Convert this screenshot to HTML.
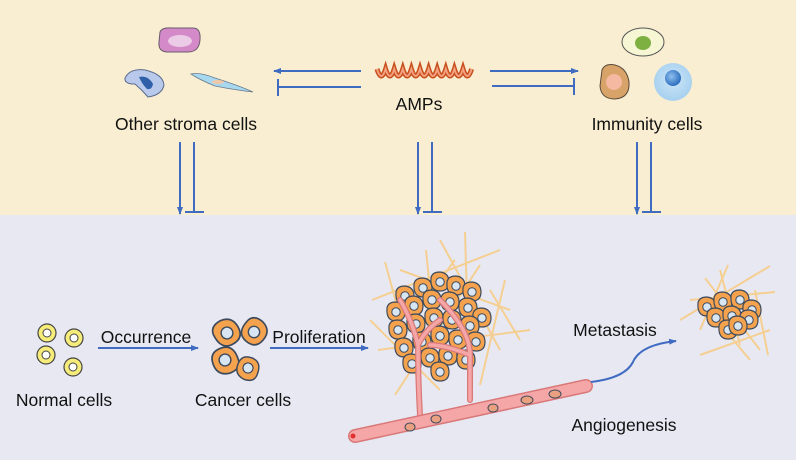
<!DOCTYPE html>
<html><head><meta charset="utf-8"><style>
html,body{margin:0;padding:0;background:#fff}
svg{display:block}
text{font-family:"Liberation Sans","DejaVu Sans",sans-serif;fill:#111}
</style></head><body>
<svg width="796" height="460" viewBox="0 0 796 460" xmlns="http://www.w3.org/2000/svg">
<defs>
<marker id="ar" markerWidth="8" markerHeight="8" refX="7" refY="4" orient="auto" markerUnits="userSpaceOnUse"><path d="M0,1 L8,4 L0,7 Z" fill="#3f6cc0"/></marker>
<radialGradient id="bl" cx="0.5" cy="0.45" r="0.5"><stop offset="0" stop-color="#cfe6f8"/><stop offset="1" stop-color="#a9d2f0"/></radialGradient>
<radialGradient id="bn" cx="0.4" cy="0.4" r="0.6"><stop offset="0" stop-color="#8fc0ee"/><stop offset="1" stop-color="#2f6fc0"/></radialGradient>
<g id="cc"><path d="M-9,-4 Q-8,-10 0,-10 Q9,-9 9,0 Q9,9 0,9 Q-10,9 -9,-4Z" fill="#f4a24e" stroke="#3d4a5c" stroke-width="1.2"/><circle r="4.2" fill="#d8e6f3" stroke="#3d4a5c" stroke-width="1"/></g>
</defs>
<rect x="0" y="0" width="796" height="215" fill="#f9eed2"/>
<rect x="0" y="215" width="796" height="245" fill="#e8e8f3"/>

<!-- stroma cells -->
<path d="M160,32 Q162,27 172,28 L193,28 Q201,28 200,40 Q199,52 188,52 L168,52 Q158,52 159,42Z" fill="#d48ac8" stroke="#6a5a6a" stroke-width="1"/>
<ellipse cx="180" cy="41" rx="12" ry="6" fill="#eccbe6"/>
<path d="M125,78 Q130,68 145,70 Q163,74 164,85 Q162,95 148,97 Q142,90 135,84 Q124,84 125,78Z" fill="#b9c9ec" stroke="#5a6a8a" stroke-width="1"/>
<path d="M139,77 Q148,75 153,84 Q152,90 147,89 Q142,84 139,77Z" fill="#2e5fa8"/>
<path d="M191,74 Q200,72 215,78 Q240,86 253,92 Q235,90 215,86 Q200,80 191,74Z" fill="#a8d8f0" stroke="#6a7a8a" stroke-width="0.8"/>
<ellipse cx="218" cy="82" rx="6" ry="2" fill="#f0c8a8"/>
<text x="186" y="130" font-size="17.5" text-anchor="middle">Other stroma cells</text>

<!-- horizontal arrows -->
<g stroke="#3f6cc0" stroke-width="2" fill="none">
<line x1="361" y1="71" x2="274" y2="71" marker-end="url(#ar)"/>
<line x1="361" y1="87" x2="278" y2="87"/><line x1="278" y1="79" x2="278" y2="96"/>
<line x1="490" y1="71" x2="578" y2="71" marker-end="url(#ar)"/>
<line x1="492" y1="86" x2="574" y2="86"/><line x1="574" y1="78" x2="574" y2="95"/>
<line x1="180" y1="142" x2="180" y2="214" marker-end="url(#ar)"/>
<line x1="194" y1="142" x2="194" y2="212"/><line x1="185" y1="212" x2="204" y2="212"/>
<line x1="418" y1="142" x2="418" y2="214" marker-end="url(#ar)"/>
<line x1="432" y1="142" x2="432" y2="212"/><line x1="423" y1="212" x2="442" y2="212"/>
<line x1="637" y1="142" x2="637" y2="214" marker-end="url(#ar)"/>
<line x1="651" y1="142" x2="651" y2="212"/><line x1="642" y1="212" x2="661" y2="212"/>
</g>

<!-- AMPs wave -->
<path d="M377,69 q4.3,14 8.6,0 q4.3,14 8.6,0 q4.3,14 8.6,0 q4.3,14 8.6,0 q4.3,14 8.6,0 q4.3,14 8.6,0 q4.3,14 8.6,0 q4.3,14 8.6,0 q4.3,14 8.6,0 q4.3,14 8.6,0 q4.3,14 8.6,0" fill="none" stroke="#c8501e" stroke-width="5"/>
<path d="M377,69 q4.3,14 8.6,0 q4.3,14 8.6,0 q4.3,14 8.6,0 q4.3,14 8.6,0 q4.3,14 8.6,0 q4.3,14 8.6,0 q4.3,14 8.6,0 q4.3,14 8.6,0 q4.3,14 8.6,0 q4.3,14 8.6,0 q4.3,14 8.6,0" fill="none" stroke="#f5a080" stroke-width="2"/>
<text x="419" y="110" font-size="17.5" text-anchor="middle">AMPs</text>

<!-- immunity cells -->
<ellipse cx="643" cy="42" rx="21" ry="14" fill="#f6f6d4" stroke="#555" stroke-width="1"/>
<ellipse cx="643" cy="43" rx="8" ry="7" fill="#7db040"/>
<path d="M602,70 Q605,63 615,65 Q627,68 629,82 Q630,98 615,99 Q601,99 600,86Z" fill="#d8a368" stroke="#5a4a3a" stroke-width="1"/>
<ellipse cx="614" cy="82" rx="8" ry="8" fill="#f5b8a0"/>
<circle cx="673" cy="82" r="19" fill="url(#bl)"/>
<circle cx="673" cy="78" r="8" fill="url(#bn)"/>
<text x="647" y="130" font-size="17.5" text-anchor="middle">Immunity cells</text>

<!-- normal cells -->
<g fill="#f6ec7a" stroke="#444" stroke-width="1.2">
<ellipse cx="47" cy="333" rx="9" ry="9"/><ellipse cx="74" cy="338" rx="9" ry="9"/>
<ellipse cx="46" cy="355" rx="9" ry="9"/><ellipse cx="73" cy="367" rx="9" ry="9"/>
</g>
<g fill="#fff" stroke="#444" stroke-width="1"><circle cx="47" cy="333" r="4"/><circle cx="74" cy="338" r="4"/><circle cx="46" cy="355" r="4"/><circle cx="73" cy="367" r="4"/></g>
<text x="64" y="406" font-size="17.5" text-anchor="middle">Normal cells</text>
<text x="146" y="343" font-size="17.5" text-anchor="middle">Occurrence</text>
<line x1="98" y1="348" x2="198" y2="348" stroke="#3f6cc0" stroke-width="2" marker-end="url(#ar)"/>

<!-- cancer cells -->
<use href="#cc" transform="translate(227,333) scale(1.4) rotate(-30)"/>
<use href="#cc" transform="translate(254,332) scale(1.35) rotate(40)"/>
<use href="#cc" transform="translate(225,360) scale(1.4) rotate(160)"/>
<use href="#cc" transform="translate(248,368) scale(1.2) rotate(200)"/>
<text x="243" y="406" font-size="17.5" text-anchor="middle">Cancer cells</text>
<text x="319" y="343" font-size="17.5" text-anchor="middle">Proliferation</text>
<line x1="270" y1="348" x2="368" y2="348" stroke="#3f6cc0" stroke-width="2" marker-end="url(#ar)"/>

<!-- fibers -->
<g stroke="#f7cd88" stroke-width="2" fill="none" opacity="0.9">
<line x1="385" y1="262" x2="420" y2="390"/><line x1="372" y1="300" x2="500" y2="250"/>
<line x1="378" y1="350" x2="530" y2="330"/><line x1="395" y1="395" x2="480" y2="265"/>
<line x1="465" y1="232" x2="470" y2="400"/><line x1="440" y1="240" x2="500" y2="350"/>
<line x1="370" y1="320" x2="440" y2="390"/><line x1="400" y1="270" x2="510" y2="310"/>
<line x1="455" y1="260" x2="395" y2="340"/><line x1="480" y1="385" x2="505" y2="280"/>
<line x1="426" y1="250" x2="430" y2="290"/><line x1="490" y1="290" x2="520" y2="340"/>
<line x1="690" y1="300" x2="775" y2="292"/><line x1="705" y1="278" x2="760" y2="350"/>
<line x1="720" y1="270" x2="740" y2="345"/><line x1="680" y1="320" x2="770" y2="266"/>
<line x1="700" y1="355" x2="770" y2="330"/><line x1="728" y1="265" x2="700" y2="330"/>
<line x1="755" y1="290" x2="768" y2="355"/><line x1="700" y1="300" x2="750" y2="360"/>
</g>

<!-- tumor cluster -->
<g>
<use href="#cc" transform="translate(405,296)"/><use href="#cc" transform="translate(423,288)"/>
<use href="#cc" transform="translate(440,282)"/><use href="#cc" transform="translate(456,286)"/>
<use href="#cc" transform="translate(472,292)"/><use href="#cc" transform="translate(396,312)"/>
<use href="#cc" transform="translate(414,306)"/><use href="#cc" transform="translate(432,300)"/>
<use href="#cc" transform="translate(450,302)"/><use href="#cc" transform="translate(468,308)"/>
<use href="#cc" transform="translate(482,318)"/><use href="#cc" transform="translate(398,330)"/>
<use href="#cc" transform="translate(416,324)"/><use href="#cc" transform="translate(434,318)"/>
<use href="#cc" transform="translate(452,320)"/><use href="#cc" transform="translate(470,326)"/>
<use href="#cc" transform="translate(404,348)"/><use href="#cc" transform="translate(422,342)"/>
<use href="#cc" transform="translate(440,336)"/><use href="#cc" transform="translate(458,340)"/>
<use href="#cc" transform="translate(476,342)"/><use href="#cc" transform="translate(412,364)"/>
<use href="#cc" transform="translate(430,358)"/><use href="#cc" transform="translate(448,356)"/>
<use href="#cc" transform="translate(466,360)"/><use href="#cc" transform="translate(440,372)"/>
</g>
<!-- vessels -->
<g fill="none" stroke-linecap="round">
<path d="M420,415 Q418,380 418,345 Q412,320 400,300 M418,345 Q425,330 440,320 M470,400 Q470,380 470,355 Q470,330 440,300 M470,355 Q445,345 430,345" stroke="#d97878" stroke-width="6"/>
<path d="M420,415 Q418,380 418,345 Q412,320 400,300 M418,345 Q425,330 440,320 M470,400 Q470,380 470,355 Q470,330 440,300 M470,355 Q445,345 430,345" stroke="#f5a6a6" stroke-width="3.5"/>
<path d="M355,436 L586,386" stroke="#d97878" stroke-width="14"/>
<path d="M355,436 L586,386" stroke="#f5a6a6" stroke-width="11"/>
</g>
<circle cx="353" cy="436" r="2.5" fill="#e03030"/>
<g fill="#e8a080" stroke="#3d4a5c" stroke-width="1">
<ellipse cx="410" cy="427" rx="5" ry="4"/><ellipse cx="436" cy="419" rx="5" ry="4"/><ellipse cx="493" cy="408" rx="5" ry="4"/><ellipse cx="527" cy="400" rx="6" ry="4"/><ellipse cx="555" cy="394" rx="6" ry="4"/>
</g>
<text x="624" y="431" font-size="17.5" text-anchor="middle">Angiogenesis</text>

<!-- metastasis -->
<path d="M591,382 Q625,378 633,362 Q640,345 676,341" fill="none" stroke="#3f6cc0" stroke-width="2" marker-end="url(#ar)"/>
<text x="615" y="336" font-size="17.5" text-anchor="middle">Metastasis</text>
<g>
<use href="#cc" transform="translate(707,307)"/><use href="#cc" transform="translate(723,302)"/>
<use href="#cc" transform="translate(740,300)"/><use href="#cc" transform="translate(752,310)"/>
<use href="#cc" transform="translate(716,318)"/><use href="#cc" transform="translate(732,316)"/>
<use href="#cc" transform="translate(749,320)"/><use href="#cc" transform="translate(728,330)"/>
<use href="#cc" transform="translate(738,326)"/>
</g>
</svg>
</body></html>
